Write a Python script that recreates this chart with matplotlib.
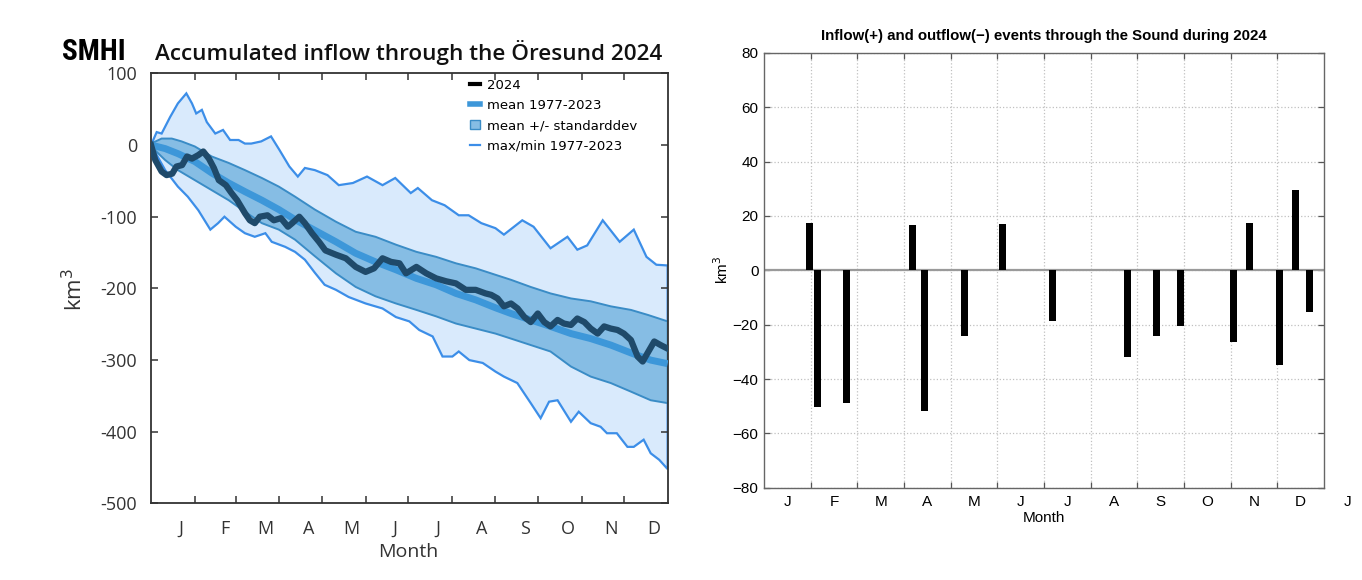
import matplotlib.pyplot as plt
from matplotlib.lines import Line2D
from matplotlib.patches import Patch

# ---- left panel: accumulated inflow through the Öresund (km3), x = day of 2024 ----
max_days = [0, 4, 7.5, 13.5, 19, 25, 29, 32, 36, 39.5, 45.5, 51, 56, 62, 66.5, 71, 78, 85, 91, 98,
            104, 109, 116, 125, 133, 143, 153, 164, 173, 184, 189, 199, 208, 218, 225, 234, 244,
            250, 263, 271, 283, 295, 302, 309, 320, 332, 342, 351, 358, 366]
max_vals = [0, 18, 16, 39, 58, 72, 58, 44, 49, 32, 16, 21, 7, 7, 2, 2, 5, 12, -7, -30,
            -44, -32, -35, -42, -56, -53, -44, -56, -46, -67, -60, -77, -84, -98, -98, -109, -116,
            -125, -105, -114, -144, -128, -146, -140, -105, -135, -118, -156, -167, -168]

min_days = [0, 10, 19, 26, 33.5, 42, 47.5, 52, 60, 66.5, 73.5, 81, 85.5, 95, 102, 109, 116, 123,
            131, 140, 152, 164, 173.5, 183, 190, 199.5, 206.5, 213.5, 218, 225.5, 235, 244, 250,
            259.5, 269, 276, 282, 288, 297.5, 303, 311.5, 318.5, 323, 330, 337.5, 342, 349, 354,
            360, 366]
min_vals = [0, -35, -58, -72, -91, -118, -109, -100, -114, -123, -128, -123, -135, -142, -149, -160,
            -178, -195, -202, -212, -221, -228, -240, -246, -258, -267, -295, -295, -288, -300,
            -304, -316, -323, -332, -360, -381, -358, -356, -386, -372, -388, -393, -402, -402,
            -421, -421, -411, -430, -439, -452]

std_hi_days = [0, 7.5, 14.7, 21.7, 31, 43, 55, 66.5, 78.5, 90.5, 102, 116, 131, 145, 159, 173.5,
               188, 202, 216, 230, 244, 255, 269, 283, 297.5, 311.5, 325.7, 340, 352, 366]
std_hi_vals = [2, 9, 9, 5, -2, -16, -25, -35, -46, -58, -72, -90, -107, -121, -128, -139,
               -149, -156, -165, -172, -181, -188, -198, -207, -214, -218, -225, -230, -237, -246]

std_lo_days = [0, 10, 19, 31, 43, 55, 66.5, 78.5, 90.5, 102, 116, 131, 145, 159, 173.5, 188, 202,
               216, 230, 244, 255, 269, 283, 297.5, 311.5, 325.7, 340, 354, 366]
std_lo_vals = [-2, -21, -35, -49, -63, -77, -93, -109, -118, -132, -155, -179, -198, -211, -221,
               -230, -239, -249, -256, -263, -270, -279, -288, -309, -323, -332, -344, -356, -360]

mean_days = [0, 10, 19, 31, 43, 55, 66.5, 78.5, 90.5, 102, 116, 131, 145, 159, 173.5, 188, 202,
             216, 230, 244, 255, 269, 283, 297.5, 311.5, 325.7, 340, 354, 366]
mean_vals = [0, -5, -12, -23, -39, -53, -65, -77, -90, -104, -119, -135, -151, -163, -174, -186,
             -195, -207, -216, -227, -235, -244, -253, -263, -270, -279, -290, -300, -305]

y2024_days = [0, 3, 7.5, 11, 15, 18, 22, 25.5, 29, 33.5, 37, 41, 44.5, 48, 53, 57, 61, 66.5, 70,
              73.5, 77, 82.5, 87, 92, 97, 100, 105, 109, 114, 119, 123.5, 131, 138, 145, 152, 158,
              164, 170, 176, 180.6, 188, 195, 202, 209, 216, 223, 230, 237, 241, 245.5, 250, 255,
              259.7, 264.5, 269, 274, 278.6, 283, 288, 292.5, 297.5, 302, 307, 311.5, 316.4, 321,
              325.7, 330.5, 335, 340, 344.7, 348.3, 351.8, 356.5, 361, 366]
y2024_vals = [0, -21, -37, -42, -40, -30, -28, -16, -19, -14, -9, -19, -32, -49, -56, -67, -77, -95,
              -105, -109, -100, -98, -105, -102, -114, -109, -100, -109, -123, -135, -147, -153,
              -158, -170, -177, -172, -158, -163, -165, -179, -170, -179, -186, -190, -193, -202,
              -202, -207, -209, -214, -225, -221, -228, -240, -247, -235, -247, -253, -244, -249,
              -251, -242, -247, -256, -263, -253, -256, -258, -263, -272, -295, -302, -290, -274,
              -279, -284]

month_starts = [0, 31, 60, 91, 121, 152, 182, 213, 244, 274, 305, 335, 366]
month_letters = ['J', 'F', 'M', 'A', 'M', 'J', 'J', 'A', 'S', 'O', 'N', 'D']
left_yticks = [100, 0, -100, -200, -300, -400, -500]

# ---- right panel: inflow(+)/outflow(-) events, x = month (0..12) ----
event_month = [0.97, 1.14, 1.76, 3.18, 3.44, 4.29, 5.12, 6.18, 7.79, 8.42, 8.92, 10.06, 10.41,
               11.05, 11.39, 11.70]
event_volume = [17.5, -50.3, -49, 16.7, -51.9, -24, 17.1, -18.5, -31.8, -24, -20.4, -26.3, 17.5,
                -35, 29.7, -15.3]
right_letters = month_letters + ['J']
right_yticks = [-80, -60, -40, -20, 0, 20, 40, 60, 80]

light_fill = '#d9eafc'
minmax_col = '#3c8ee8'
std_fill = '#86bde4'
std_edge = '#3a8cc6'
mean_col = '#3d97d9'
y2024_col = '#1f4a6a'
frame_col = '#333333'

fig = plt.figure(figsize=(13.62, 5.8), dpi=100)

# ================= left =================
ax = fig.add_axes([0.1109, 0.1319, 0.3793, 0.7417])
ax.fill(max_days + min_days[::-1], max_vals + min_vals[::-1],
        facecolor=light_fill, edgecolor=minmax_col, lw=1.6, zorder=1)
ax.fill(std_hi_days + std_lo_days[::-1], std_hi_vals + std_lo_vals[::-1],
        facecolor=std_fill, edgecolor=std_edge, lw=1.4, zorder=2)
ax.plot(mean_days, mean_vals, color=mean_col, lw=5, solid_capstyle='butt', zorder=3)
ax.plot(y2024_days, y2024_vals, color=y2024_col, lw=4.5, zorder=4)

ax.set_xlim(0, 366)
ax.set_ylim(-500, 100)
ax.set_yticks(left_yticks, labels=[str(v) for v in left_yticks])
ax.set_xticks(month_starts[1:-1], labels=[])
ax.set_xticks([s + 21 for s in month_starts[:-1]], labels=month_letters, minor=True)
ax.tick_params(which='major', direction='in', top=True, right=True, length=5,
               width=1.1, color=frame_col, labelsize=13, labelcolor=frame_col, pad=10)
ax.tick_params(axis='x', which='minor', length=0, labelsize=13, labelcolor=frame_col, pad=12)
for lab in ax.get_xticklabels(minor=True) + ax.get_yticklabels():
    lab.set_family('Open Sans')
for sp in ax.spines.values():
    sp.set_color(frame_col)
    sp.set_linewidth(1.3)

handles = [Line2D([], [], color='black', lw=3),
           Line2D([], [], color=mean_col, lw=4),
           Patch(facecolor=std_fill, edgecolor=std_edge),
           Line2D([], [], color=minmax_col, lw=1.6)]
labels = ['2024', 'mean 1977-2023', 'mean +/- standarddev', 'max/min 1977-2023']
ax.legend(handles, labels, loc='upper left', bbox_to_anchor=(0.595, 1.015), frameon=False,
          handlelength=0.7, handletextpad=0.6, labelspacing=0.55,
          prop={'family': 'DejaVu Sans', 'size': 9.5})

fig.text(0.0455, 0.896, 'SMHI', family=['Roboto Condensed', 'Liberation Sans'],
         weight='bold', size=21, va='baseline', ha='left')
fig.text(0.1138, 0.8966, 'Accumulated inflow through the Öresund 2024', family='Open Sans',
         weight='semibold', size=16.2, va='baseline', ha='left', color='#111111')
fig.text(0.055, 0.5, 'km$^3$', family='Open Sans', size=16, rotation=90,
         ha='center', va='center', color=frame_col)
fig.text(0.2996, 0.048, 'Month', family='Open Sans', size=14, ha='center', va='center',
         color=frame_col)

# ================= right =================
ax2 = fig.add_axes([0.561, 0.159, 0.411, 0.75])
ax2.axhline(0, color='#9a9a9a', lw=1.6, zorder=1)
ax2.bar(event_month, event_volume, width=0.15, color='black', zorder=3)
ax2.set_xlim(0, 12)
ax2.set_ylim(-80, 80)
ax2.set_yticks(right_yticks)
ax2.set_xticks(range(1, 12), labels=[])
ax2.grid(True, color='#c0c0c0', linestyle=':', lw=0.9, zorder=0)
ax2.set_axisbelow(True)
ax2.tick_params(direction='in', top=True, right=True, length=4, width=0.9, color='#555555',
                labelsize=11, pad=4)
for lab in ax2.get_yticklabels():
    lab.set_family('Liberation Sans')
for i, letter in enumerate(right_letters):
    ax2.annotate(letter, xy=(i + 0.5, 0), xycoords=('data', 'axes fraction'),
                 xytext=(0, -5), textcoords='offset points', ha='center', va='top',
                 fontsize=11, family='Liberation Sans', annotation_clip=False)
for sp in ax2.spines.values():
    sp.set_color('#666666')
    sp.set_linewidth(1.0)
ax2.set_xlabel('Month', family='Liberation Sans', fontsize=11, labelpad=13)
ax2.set_ylabel('km$^3$', family='Liberation Sans', fontsize=11, labelpad=1)
ax2.set_title('Inflow(+) and outflow(\u2212) events through the Sound during 2024',
              family='Liberation Sans', weight='bold', fontsize=10.8, pad=9)

fig.savefig('out.png', dpi=100)
